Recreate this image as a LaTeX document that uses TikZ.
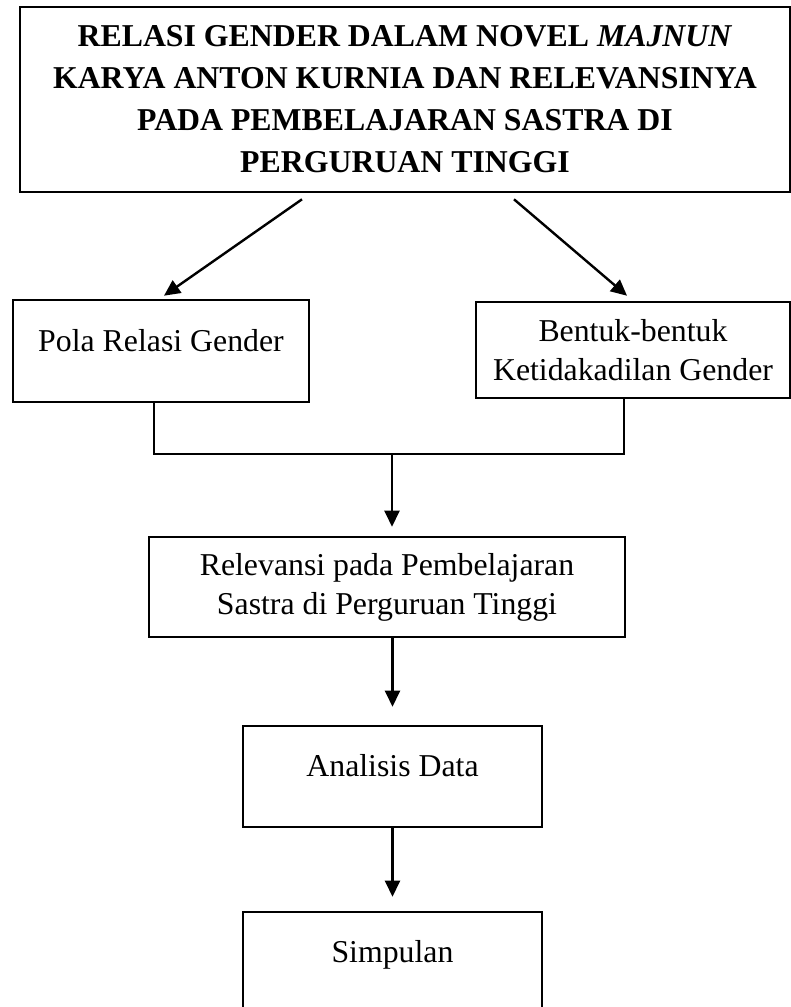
\documentclass[tikz,border=0pt]{standalone}
\usepackage{fontspec}
\setmainfont{Liberation Serif}
\usetikzlibrary{arrows.meta}

\tikzset{
  kotak/.style={draw, line width=2.6pt, align=center, inner sep=0pt,
    font=\fontsize{31.8}{39}\selectfont},
  satubaris/.style={text height=11pt, text depth=11pt},
  panah/.style={line width=2.4pt, -{Triangle[width=15pt,length=16pt]}},
}

\begin{document}
\begin{tikzpicture}[x=1pt,y=-1pt]
	%% page frame
	\useasboundingbox (0,0) rectangle (791,1007);
	\clip (0,0) rectangle (791,1007);

	\def\lebar{299pt} % width of the two lower boxes

	% title
	\node[kotak, minimum width=770pt, minimum height=185pt,
	  font=\fontsize{31.8}{42}\selectfont\bfseries] (judul) at (405,99.5)
	  {RELASI GENDER DALAM NOVEL \textit{MAJNUN}\\KARYA ANTON KURNIA DAN RELEVANSINYA\\PADA PEMBELAJARAN SASTRA DI\\PERGURUAN TINGGI};

	% the two aspects
	\node[kotak, satubaris, minimum width=296pt, minimum height=102pt] (pola) at (161,351) {Pola Relasi Gender};
	\node[kotak, minimum width=314pt, minimum height=96pt] (bentuk) at (633,350) {Bentuk-bentuk\\Ketidakadilan Gender};

	% the chain downwards
	\node[kotak, minimum width=476pt, minimum height=100pt] (relevansi) at (387,587) {Relevansi pada Pembelajaran\\Sastra di Perguruan Tinggi};
	\node[kotak, satubaris, minimum width=\lebar, minimum height=101pt] (analisis) at (392.5,776.5) {Analisis Data};
	\node[kotak, satubaris, minimum width=\lebar, minimum height=100pt] (simpulan) at (392.5,962) {Simpulan};

	% arrows from the title
	\draw[panah] ([xshift=-103pt,yshift=-6pt]judul.south) -- ([xshift=3pt,yshift=3pt]pola.north);
	\draw[panah] ([xshift=109pt,yshift=-6pt]judul.south) -- ([xshift=-6pt,yshift=5pt]bentuk.north);

	% bracket joining both boxes
	\coordinate (gabung) at (392,454);
	\draw[line width=2.4pt] ([xshift=-7pt]pola.south) |- (gabung) -| ([xshift=-9pt]bentuk.south);
	\draw[panah, shorten >=9pt] (gabung) -- (gabung |- relevansi.north);

	\draw[panah, shorten >=18pt] (analisis.north |- relevansi.south) -- (analisis.north);
	\draw[panah, shorten >=14pt] (analisis.south) -- (simpulan.north);
\end{tikzpicture}
\end{document}
